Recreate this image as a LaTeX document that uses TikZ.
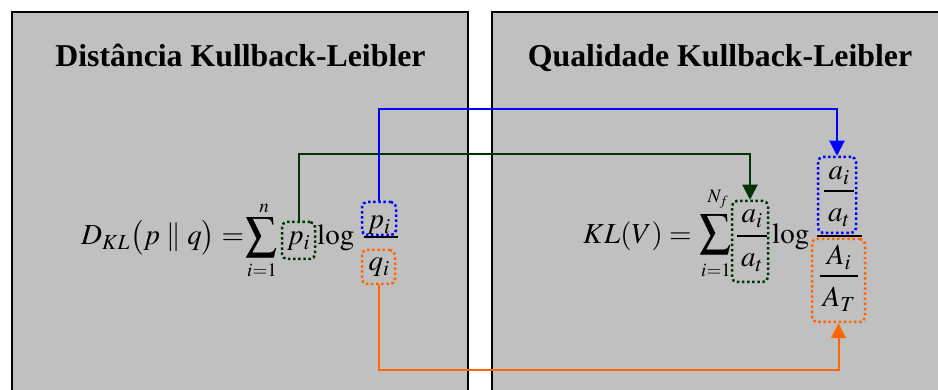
\documentclass[tikz,border=0pt]{standalone}
\usepackage{mathptmx}
\usepackage{fontspec}
\setmainfont{Liberation Serif}
\usetikzlibrary{arrows.meta}
\definecolor{panelgray}{HTML}{C0C0C0}
\definecolor{klgreen}{HTML}{003300}
\definecolor{klblue}{HTML}{0000FF}
\definecolor{klorange}{HTML}{FF6600}
\tikzset{
  panel/.style={draw=black, line width=2pt, fill=panelgray},
  title/.style={font=\fontsize{31.8}{36}\selectfont\bfseries, inner sep=0pt, anchor=base},
  fml/.style={font=\fontsize{29}{34}\selectfont, inner sep=0pt},
  lim/.style={font=\fontsize{19}{22}\selectfont, inner sep=0pt},
  dotbox/.style={draw=#1, line width=2.5pt, dash pattern=on 2.5pt off 2.6pt, rounded corners=5pt, inner sep=0pt},
  link/.style={draw=#1, line width=2pt, -{Triangle[width=15pt,length=15pt]}},
  bar/.style={line width=1.2pt, black}
}
\newcommand{\klsum}{\resizebox*{32pt}{40pt}{$\displaystyle\sum$}}
\begin{document}
\begin{tikzpicture}[x=1pt,y=-1pt]
\useasboundingbox (0,0) rectangle (938,390);
\fill[white] (0,0) rectangle (938,390);
\begin{scope}
\clip (0,0) rectangle (938,390);
\draw[panel] (12,12) rectangle (468,400);
\draw[panel] (492,12) rectangle (950,400);
\end{scope}
% titles
\node[title] (t1) at (240.5,67) {Distância Kullback-Leibler};
\node[title] (t2) at (720,67) {Qualidade Kullback-Leibler};
% left formula
\node[fml, anchor=base west] (dkl) at (81,245) {$D_{KL}\bigl(p\parallel q\bigr)=$};
\node[inner sep=0pt] (sumL) at (262,237.5) {\klsum};
\node[lim] (nL) at (264,208) {$n$};
\node[lim] (iL) at (262,270) {$i{=}1$};
\node[fml, anchor=base] (piL) at (298.5,245) {$p_i$};
\node[fml, anchor=base west] (logL) at (317,245) {$\log$};
\node[fml, anchor=base] (numL) at (379,229) {$p_i$};
\node[fml, anchor=base] (denL) at (379,271) {$q_i$};
\draw[bar] (364,237) -- (398,237);
\node[dotbox=klgreen, minimum width=33pt, minimum height=37pt] (gL) at (298.5,240.5) {};
\node[dotbox=klblue, minimum width=34pt, minimum height=33pt] (bL) at (379,218.5) {};
\node[dotbox=klorange, minimum width=33pt, minimum height=34pt] (oL) at (378.5,267) {};
% right formula
\node[fml, anchor=base west] (kl) at (583,244) {$KL(V)=$};
\node[inner sep=0pt] (sumR) at (715.5,234.5) {\klsum};
\node[lim] (nR) at (718,199) {$N_f$};
\node[lim] (iR) at (716,270) {$i{=}1$};
\node[fml, anchor=base] (gnum) at (752,223) {$a_i$};
\node[fml, anchor=base] (gden) at (752,267) {$a_t$};
\draw[bar] (737,236) -- (767,236);
\node[fml, anchor=base west] (logR) at (772,244) {$\log$};
\node[fml, anchor=base] (bnum) at (839,180) {$a_i$};
\node[fml, anchor=base] (bden) at (839,222) {$a_t$};
\draw[bar] (824,191) -- (854,191);
\draw[bar] (817,236) -- (862,236);
\node[fml, anchor=base] (onum) at (839,265) {$A_i$};
\node[fml, anchor=base] (oden) at (839,307) {$A_T$};
\draw[bar] (820,276) -- (858,276);
\node[dotbox=klgreen, minimum width=36pt, minimum height=81pt] (gR) at (750,241.5) {};
\node[dotbox=klblue, minimum width=38pt, minimum height=76pt] (bR) at (837,195) {};
\node[dotbox=klorange, minimum width=53pt, minimum height=83pt] (oR) at (838.5,280.5) {};
% connectors
\coordinate (gY) at (0,154);
\coordinate (bY) at (0,109);
\coordinate (oY) at (0,370);
\draw[link=klgreen] (gL.north) -- (gL.north |- gY) -| (gR.north);
\draw[link=klblue] (bL.north) -- (bL.north |- bY) -| (bR.north);
\draw[link=klorange] (oL.south) -- (oL.south |- oY) -| (oR.south);
\end{tikzpicture}
\end{document}
